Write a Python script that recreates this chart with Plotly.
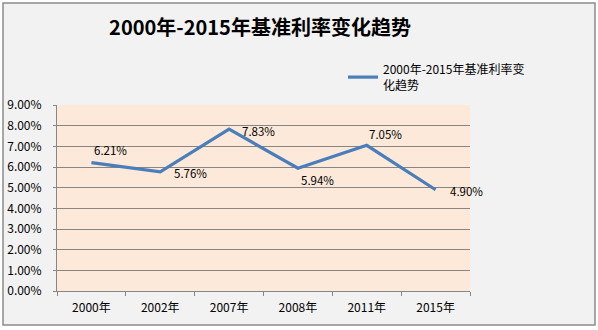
import plotly.graph_objects as go

# 基准利率（年）
years = ["2000年", "2002年", "2007年", "2008年", "2011年", "2015年"]
rates = [0.0621, 0.0576, 0.0783, 0.0594, 0.0705, 0.0490]

series_name = "2000年-2015年基准利率变<br>化趋势"
title_text = "2000年-2015年基准利率变化趋势"

# pixel offsets of each value label from its point (right, up)
label_dx = [1, 12, 11, 1, 0, 12]
label_dy = [13, -1, -2, -12, 11, -1]

FONT = "Noto Sans CJK SC"
W, H = 598, 330
L, R, T, B = 57, 128, 105, 39
pw, ph = W - L - R, H - T - B


def px_x(px):
    return (px - L) / pw


def px_y(py):
    return (H - B - py) / ph


fig = go.Figure()
fig.add_trace(go.Scatter(
    x=years,
    y=rates,
    mode="lines",
    name=series_name,
    line=dict(color="#4a7ebb", width=3.2),
    hoverinfo="skip",
))

annotations = [
    dict(x=yr, y=v, xref="x", yref="y", text=f"{v * 100:.2f}%", showarrow=False,
         xanchor="left", yanchor="middle", xshift=dx, yshift=dy,
         font=dict(family=FONT, size=11.5, color="#000000"))
    for yr, v, dx, dy in zip(years, rates, label_dx, label_dy)
]

shapes = [
    # chart frame
    dict(type="rect", xref="paper", yref="paper", layer="below",
         x0=px_x(3), x1=px_x(595), y0=px_y(325), y1=px_y(3),
         fillcolor="#f2f2f2", line=dict(color="#8c8c8c", width=1.5)),
    # plot area fill
    dict(type="rect", xref="paper", yref="paper", layer="below",
         x0=0, x1=1, y0=0, y1=1,
         fillcolor="#fde9d9", line=dict(width=0)),
]

fig.update_layout(
    width=W, height=H,
    margin=dict(l=L, r=R, t=T, b=B, autoexpand=False),
    paper_bgcolor="#ffffff",
    plot_bgcolor="rgba(0,0,0,0)",
    shapes=shapes,
    annotations=annotations,
    title=dict(text=f"<b>{title_text}</b>", x=px_x(260), xref="paper", xanchor="center",
               y=1 - 28 / H, yref="container", yanchor="middle",
               font=dict(family=FONT, size=20, color="#000000")),
    showlegend=True,
    legend=dict(x=px_x(343), y=px_y(55), xanchor="left", yanchor="top",
                bgcolor="rgba(0,0,0,0)", font=dict(family=FONT, size=12, color="#000000"),
                itemwidth=30),
    xaxis=dict(type="category", tickson="boundaries", ticks="outside", ticklen=4,
               tickcolor="#868686", showline=True, linecolor="#868686", linewidth=1,
               showgrid=False, tickfont=dict(family=FONT, size=12, color="#000000"),
               ticklabelstandoff=6, range=[-0.5, 5.5], automargin=False),
    yaxis=dict(range=[0, 0.09], dtick=0.01, tickformat=".2%", ticks="outside", ticklen=3,
               tickcolor="#868686", showline=True, linecolor="#868686", linewidth=1,
               showgrid=True, gridcolor="#8a8580", gridwidth=1, zeroline=False,
               ticklabelstandoff=9, automargin=False,
               tickfont=dict(family=FONT, size=12, color="#000000")),
)

fig.write_html("out.html")
